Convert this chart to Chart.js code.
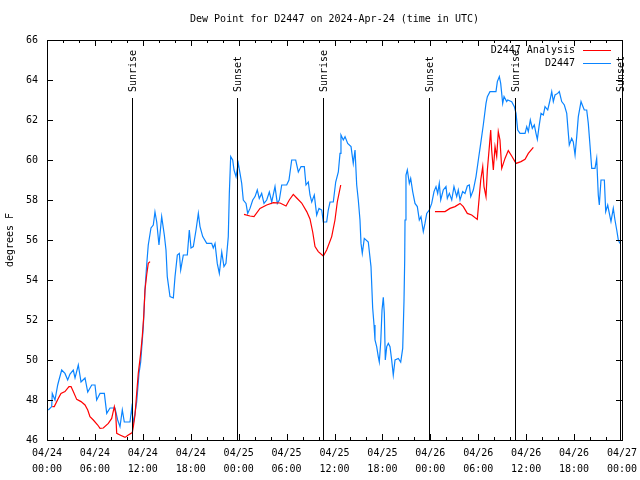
<!DOCTYPE html>
<html>
<head>
<meta charset="utf-8">
<script src="https://cdn.jsdelivr.net/npm/chart.js@4.4.1/dist/chart.umd.min.js"></script>
<style>
  html, body { margin: 0; padding: 0; background: #fff; }
  #wrap { width: 640px; height: 480px; }
</style>
</head>
<body>
<div id="wrap"><canvas id="DewPoint" width="640" height="480"></canvas></div>
<script>
// hours since 2024-04-24 00:00 UTC
const station_hours = [
  0.16, 0.59, 0.66, 1.0, 1.34, 1.5, 1.84, 2.25, 2.59, 2.88, 3.29, 3.51, 3.92, 4.26, 4.76, 5.1,
  5.6, 6.01, 6.22, 6.64, 7.18, 7.48, 7.89, 8.51, 8.85, 9.14, 9.43, 9.68, 10.39, 10.61, 10.81, 11.02,
  11.23, 11.52, 11.73, 12.06, 12.27, 12.48, 12.68, 13.02, 13.31, 13.52, 13.74, 14.02, 14.36, 14.69,
  14.9, 15.06, 15.4, 15.82, 16.03, 16.32, 16.57, 16.74, 17.07, 17.57, 17.82, 18.03, 18.32, 18.66,
  18.95, 19.16, 19.5, 20.0, 20.62, 20.82, 21.04, 21.32, 21.58, 21.88, 22.16, 22.41, 22.7, 22.83,
  23.0, 23.25, 23.42, 23.67, 23.95, 24.17, 24.38, 24.58, 24.92, 25.13, 25.42, 25.76, 26.05, 26.33,
  26.58, 26.88, 27.17, 27.51, 27.84, 28.14, 28.55, 28.84, 29.09, 29.39, 30.01, 30.3, 30.64, 31.14,
  31.47, 31.81, 32.22, 32.43, 32.72, 32.93, 33.15, 33.47, 33.77, 34.06, 34.4, 34.6, 35.02, 35.22,
  35.44, 35.85, 36.15, 36.48, 36.69, 36.81, 37.1, 37.32, 37.65, 38.07, 38.35, 38.57, 38.78, 38.98,
  39.19, 39.32, 39.48, 39.73, 40.23, 40.57, 40.78, 40.95, 41.07, 41.28, 41.48, 41.61, 41.79, 41.95,
  42.11, 42.24, 42.36, 42.54, 42.74, 42.95, 43.16, 43.36, 43.58, 43.99, 44.29, 44.54, 44.7, 44.79,
  44.83, 44.95, 45.12, 45.37, 45.54, 45.79, 46.08, 46.37, 46.62, 46.83, 47.12, 47.33, 47.55, 47.87,
  48.17, 48.46, 48.71, 48.92, 49.12, 49.3, 49.62, 49.96, 50.13, 50.38, 50.68, 50.96, 51.3, 51.5,
  51.72, 52.05, 52.34, 52.63, 52.88, 53.06, 53.38, 53.72, 54.01, 54.31, 54.63, 54.97, 55.14, 55.47,
  56.22, 56.39, 56.64, 56.81, 57.06, 57.23, 57.56, 57.69, 58.19, 58.52, 58.73, 58.94, 59.23, 59.86,
  60.07, 60.27, 60.52, 60.77, 61.02, 61.23, 61.4, 61.61, 61.86, 62.15, 62.36, 62.7, 62.99, 63.2,
  63.4, 63.61, 63.95, 64.15, 64.45, 64.78, 65.08, 65.28, 65.4, 65.7, 65.9, 66.12, 66.33, 66.53,
  66.87, 67.03, 67.28, 67.58, 67.78, 67.99, 68.21, 68.62, 68.83, 69.03, 69.16, 69.37, 69.79, 69.96,
  70.21, 70.37, 70.62, 70.91, 71.12, 71.34, 71.54, 71.75
];
const station_dewpoint = [
  47.5, 47.67, 48.33, 48.0, 48.75, 49.0, 49.5, 49.33, 49.0, 49.3, 49.5, 49.1, 49.75, 48.9, 49.1, 48.4,
  48.75, 48.75, 48.0, 48.33, 48.33, 47.33, 47.6, 47.6, 47.0, 46.67, 47.5, 46.9, 46.9, 47.6, 46.83, 47.33,
  47.9, 49.33, 49.9, 51.67, 53.5, 54.75, 55.75, 56.6, 56.75, 57.4, 56.9, 55.75, 57.17, 56.25,
  55.5, 54.17, 53.17, 53.1, 54.17, 55.25, 55.33, 54.5, 55.25, 55.25, 56.5, 55.6, 55.67, 56.5,
  57.33, 56.67, 56.17, 55.83, 55.83, 55.6, 55.83, 54.83, 54.33, 55.4, 54.67, 54.83, 56.17, 58.33,
  60.17, 60.0, 59.5, 59.17, 59.83, 59.33, 58.83, 58.0, 57.83, 57.33, 57.58, 58.0, 58.17, 58.5,
  58.08, 58.33, 57.83, 58.0, 58.4, 57.9, 58.67, 57.83, 58.0, 58.75, 58.75, 59.0, 60.0, 60.0,
  59.4, 59.67, 59.67, 58.75, 58.9, 58.25, 57.9, 58.25, 57.25, 57.58, 57.5, 56.9, 56.9, 57.5,
  57.9, 57.9, 58.9, 59.4, 60.33, 61.25, 61.0, 61.17, 60.83, 60.67, 59.83, 60.5, 58.75, 58.0,
  57.0, 55.83, 55.33, 56.08, 55.9, 54.67, 52.6, 51.75, 51.0, 50.67, 50.17, 49.9, 50.9, 52.5,
  53.13, 52.33, 50.0, 50.67, 50.83, 50.67, 50.0, 49.25, 50.0, 50.08, 49.9, 50.58, 52.92, 55.0,
  57.0, 59.25, 59.5, 58.83, 59.08, 58.42, 57.83, 57.67, 57.0, 57.17, 56.42, 56.83, 57.33, 57.5,
  57.83, 58.42, 58.67, 58.33, 58.83, 58.0, 58.5, 58.67, 58.08, 58.33, 58.0, 58.67, 58.17, 58.5,
  58.0, 58.42, 58.33, 58.7, 58.75, 58.17, 58.5, 59.17, 60.0, 60.83, 61.75, 62.83, 63.17, 63.42,
  63.42, 63.92, 64.17, 63.83, 62.83, 63.17, 62.92, 63.0, 62.92, 62.67, 62.33, 61.5, 61.33, 61.33,
  61.67, 61.42, 62.0, 61.58, 61.75, 61.33, 61.03, 61.67, 62.33, 62.25, 62.67, 62.5, 63.0, 63.42,
  62.92, 63.25, 63.33, 63.42, 62.92, 62.75, 62.33, 61.33, 60.75, 61.08, 60.9, 60.25, 61.17, 62.17,
  62.92, 62.75, 62.5, 62.5, 61.83, 60.75, 59.58, 59.58, 60.08, 58.25, 57.75, 59.0, 59.0, 57.42,
  57.75, 57.42, 56.92, 57.58, 57.0, 56.5, 56.0, 55.83
];

// analysis series, null = no analysis
const analysis_hours = [
  0.66, 0.91, 1.41, 1.75, 2.25, 2.75, 3.01, 3.29, 3.72, 4.26, 4.76, 5.1, 5.38, 5.8, 6.35, 6.64,
  7.05, 7.68, 8.1, 8.43, 8.6, 8.73, 9.14, 9.77, 10.18, 10.68, 10.81, 11.02, 11.23, 11.43, 11.73,
  11.93, 12.11, 12.27, 12.48, 12.68, 12.9, 13.0,
  24.67, 25.42, 25.92, 26.67, 27.51, 28.34, 29.18, 29.93, 30.34, 30.84, 31.27, 31.89, 32.52, 32.93,
  33.27, 33.56, 33.97, 34.6, 35.02, 35.65, 36.06, 36.35, 36.78, 37.0,
  48.58, 49.84, 50.46, 51.09, 51.72, 52.13, 52.63, 53.18, 53.88, 54.13, 54.31, 54.56, 54.72, 54.97,
  55.14, 55.39, 55.56, 55.68, 55.89, 56.1, 56.31, 56.51, 56.72, 56.94, 57.35, 57.76, 58.19, 58.73,
  59.35, 59.86, 60.27, 60.9
];
const analysis_dewpoint = [
  47.67, 47.67, 48.08, 48.33, 48.42, 48.67, 48.67, 48.42, 48.03, 47.92, 47.75, 47.5, 47.17, 47.0, 46.75, 46.58,
  46.6, 46.83, 47.08, 47.67, 47.33, 46.33, 46.25, 46.13, 46.25, 46.37, 46.67, 47.25, 48.33, 49.33, 50.33,
  51.17, 52.17, 53.5, 54.25, 54.83, 54.92, null,
  57.28, 57.2, 57.17, 57.58, 57.75, 57.87, 57.85, 57.7, 58.0, 58.28, 58.1, 57.85, 57.42, 57.05,
  56.4, 55.67, 55.42, 55.2, 55.5, 56.17, 57.0, 57.9, 58.75, null,
  57.42, 57.42, 57.58, 57.67, 57.83, 57.67, 57.33, 57.25, 57.03, 58.17, 59.0, 59.67, 58.67, 58.17,
  59.5, 60.67, 61.5, 60.5, 59.5, 60.67, 60.17, 61.42, 61.0, 59.58, 60.08, 60.47, 60.2, 59.83,
  59.92, 60.03, 60.33, 60.63
];

const sun_hours = [10.64, 23.79, 34.56, 47.83, 58.6, 71.75];
const sun_labels = ['Sunrise', 'Sunset', 'Sunrise', 'Sunset', 'Sunrise', 'Sunset'];

const date_labels = ['04/24', '04/24', '04/24', '04/24', '04/25', '04/25', '04/25', '04/25',
  '04/26', '04/26', '04/26', '04/26', '04/27'];
const time_labels = ['00:00', '06:00', '12:00', '18:00', '00:00', '06:00', '12:00', '18:00',
  '00:00', '06:00', '12:00', '18:00', '00:00'];

const chart_title = 'Dew Point for D2447 on 2024-Apr-24 (time in UTC)';

const MONO = '"DejaVu Sans Mono", "Liberation Mono", monospace';

function toPoints(xs, ys) {
    let pts = [];
    for (let i = 0; i < xs.length; i++) {
        pts.push({x: xs[i], y: ys[i]});
    }
    return pts;
}

// gnuplot style frame, inward ticks, title, sun markers and legend
const gnuplotDecor = {
    id: 'gnuplotDecor',
    afterDatasetsDraw(chart) {
        const ctx = chart.ctx;
        const a = chart.chartArea;
        const xs = chart.scales.x;
        const ys = chart.scales.y;
        ctx.save();
        ctx.strokeStyle = '#000';
        ctx.lineWidth = 1;
        ctx.fillStyle = '#000';
        ctx.font = '10px ' + MONO;

        // title, centred over the plot
        ctx.textAlign = 'center';
        ctx.textBaseline = 'middle';
        ctx.fillText(chart_title, (a.left + a.right) / 2, 19);

        // sunrise / sunset lines
        for (let i = 0; i < sun_hours.length; i++) {
            const px = Math.round(xs.getPixelForValue(sun_hours[i])) + 0.5;
            ctx.beginPath();
            ctx.moveTo(px, 98);
            ctx.lineTo(px, a.bottom);
            ctx.stroke();
            ctx.save();
            ctx.translate(px + 1, 92);
            ctx.rotate(-Math.PI / 2);
            ctx.textAlign = 'left';
            ctx.textBaseline = 'middle';
            ctx.fillText(sun_labels[i], 0, 0);
            ctx.restore();
        }

        // border
        ctx.strokeRect(Math.round(a.left) + 0.5, Math.round(a.top) + 0.5,
            Math.round(a.right - a.left), Math.round(a.bottom - a.top));

        // x ticks, major every 6 h, minor every 2 h
        for (let h = 0; h <= 72; h += 2) {
            const px = Math.round(xs.getPixelForValue(h)) + 0.5;
            const len = (h % 6 === 0) ? 6 : 3;
            ctx.beginPath();
            ctx.moveTo(px, a.bottom);
            ctx.lineTo(px, a.bottom - len);
            ctx.moveTo(px, a.top);
            ctx.lineTo(px, a.top + len);
            ctx.stroke();
        }
        // y ticks
        for (let v = 46; v <= 66; v += 2) {
            const py = Math.round(ys.getPixelForValue(v)) + 0.5;
            ctx.beginPath();
            ctx.moveTo(a.left, py);
            ctx.lineTo(a.left + 6, py);
            ctx.moveTo(a.right, py);
            ctx.lineTo(a.right - 6, py);
            ctx.stroke();
        }

        // legend
        ctx.textAlign = 'right';
        ctx.textBaseline = 'middle';
        chart.data.datasets.forEach((ds, i) => {
            const ly = 50 + i * 13;
            ctx.fillStyle = '#000';
            ctx.fillText(ds.label, 575, ly);
            ctx.strokeStyle = ds.borderColor;
            ctx.beginPath();
            ctx.moveTo(583, ly + 0.5);
            ctx.lineTo(611, ly + 0.5);
            ctx.stroke();
        });
        ctx.restore();
    }
};

new Chart(
    document.getElementById('DewPoint'),
    {
        type: 'scatter',
        data: {
            datasets: [
                {
                    label: 'D2447 Analysis',
                    data: toPoints(analysis_hours, analysis_dewpoint),
                    showLine: true,
                    spanGaps: false,
                    borderColor: '#ff0000',
                    borderWidth: 1.2,
                    pointRadius: 0,
                    order: 1,
                },
                {
                    label: 'D2447',
                    data: toPoints(station_hours, station_dewpoint),
                    showLine: true,
                    borderColor: '#0a84ff',
                    borderWidth: 1.2,
                    pointRadius: 0,
                    order: 2,
                }
            ]
        },
        options: {
            responsive: false,
            animation: false,
            devicePixelRatio: 1,
            layout: {
                padding: {left: 0, right: 18, top: 40, bottom: 0}
            },
            plugins: {
                legend: {display: false},
                tooltip: {enabled: false},
                title: {display: false}
            },
            scales: {
                x: {
                    type: 'linear',
                    min: 0,
                    max: 72,
                    grid: {display: false, drawTicks: false},
                    border: {display: false},
                    afterFit: (scale) => {
                        scale.height = 40;
                        scale.paddingRight = 0;
                        scale.paddingLeft = 0;
                    },
                    ticks: {
                        stepSize: 6,
                        autoSkip: false,
                        maxRotation: 0,
                        padding: 6,
                        color: '#000',
                        font: {family: MONO, size: 10, lineHeight: 1.55},
                        callback: (value) => {
                            const i = Math.round(value / 6);
                            return [date_labels[i], time_labels[i]];
                        }
                    }
                },
                y: {
                    min: 46,
                    max: 66,
                    grid: {display: false, drawTicks: false},
                    border: {display: false},
                    afterFit: (scale) => { scale.width = 47; },
                    title: {
                        display: true,
                        text: 'degrees F',
                        color: '#000',
                        font: {family: MONO, size: 10},
                        padding: {top: 4, bottom: 0}
                    },
                    ticks: {
                        stepSize: 2,
                        padding: 9,
                        color: '#000',
                        font: {family: MONO, size: 10}
                    }
                }
            }
        },
        plugins: [gnuplotDecor]
    }
);
</script>
</body>
</html>
